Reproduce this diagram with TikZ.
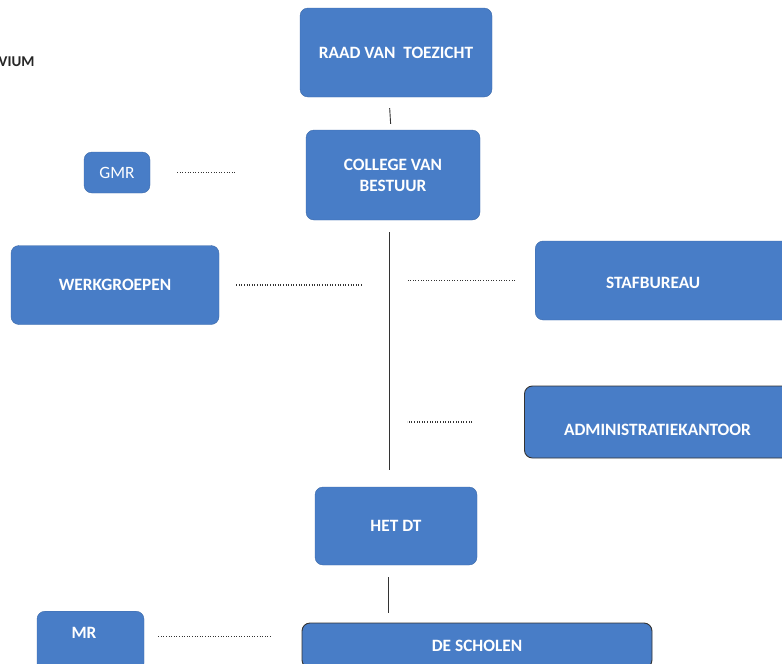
\documentclass[tikz,border=0pt]{standalone}
\usepackage{fontspec}
\setmainfont{Carlito}
\definecolor{boxblue}{RGB}{72,125,199}

\begin{document}
\begin{tikzpicture}[x=1pt,y=-1pt,line width=1pt]
\tikzset{
  box/.style={fill=boxblue,draw=boxblue!85!black,line width=0.4pt,rounded corners=8pt,
    inner sep=0pt,text=white,align=center,font=\bfseries\fontsize{17.3}{21}\selectfont},
  rim/.style={draw=black!80,line width=0.9pt},
  lbl/.style={text=white,font=\bfseries\fontsize{17.3}{21}\selectfont},
  tie/.style={line width=0.9pt,draw=black!80},
  dots/.style={line width=1.3pt,draw=black!80,dash pattern=on 0.9pt off 1.7pt}}
\useasboundingbox (0,0) rectangle (782,664);
\clip (0,0) rectangle (782,664);
% ---------- top ----------
\node[anchor=east,inner sep=0pt,text=black!85,font=\bfseries\fontsize{15}{17}\selectfont] (praes) at (35,62) {VIUM};
\node[box,minimum width=192,minimum height=89] (rvt) at (396,52.5) {RAAD VAN~~TOEZICHT};
\node[box,minimum width=174,minimum height=90] (cvb) at (393,175) {COLLEGE VAN\\BESTUUR};
\node[box,minimum width=66,minimum height=41,font=\fontsize{17.3}{21}\selectfont] (gmr) at (117,172.5) {GMR};
% ---------- side boxes ----------
\node[box,minimum width=208,minimum height=79] (werk) at (115,285) {WERKGROEPEN};
\node[box,anchor=west,minimum width=260,minimum height=79,
  label={[lbl,xshift=-12pt,yshift=-2.5pt]center:STAFBUREAU}] (staf) at (535,280.5) {};
\node[box,rim,anchor=west,minimum width=270,minimum height=72,
  label={[lbl,xshift=-2pt,yshift=-8pt]center:ADMINISTRATIEKANTOOR}] (admin) at (524,422) {};
% ---------- bottom ----------
\node[box,minimum width=162,minimum height=78] (dt) at (396,526) {HET DT};
\node[box,rim,minimum width=350,minimum height=45] (scholen) at (477,645.5) {DE SCHOLEN};
\node[box,anchor=north,minimum width=107,minimum height=60,
  label={[lbl,xshift=-6.5pt,yshift=8pt]center:MR}] (mr) at (90.5,611) {};
% ---------- lines ----------
\draw[tie,shorten <=11,shorten >=6] ([xshift=-7pt]rvt.south) -- ([xshift=-2pt]cvb.north);
\draw[tie,shorten <=12,shorten >=17] ([xshift=-4pt]cvb.south) -- ([xshift=-7pt]dt.north);
\draw[tie,shorten <=12,shorten >=10] ([xshift=-8pt]dt.south) -- ([xshift=-89pt]scholen.north);
\draw[dots,shorten <=27,shorten >=70] (gmr.east) -- (gmr.east -| cvb.west);
\draw[dots,shorten <=17,shorten >=31] (werk.east) -- (werk.east -| cvb.south);
\draw[dots,shorten <=20,shorten >=14] (staf.west) -- (staf.west -| cvb.south);
\draw[dots,shorten <=52,shorten >=14] (admin.west) -- (admin.west -| cvb.south);
\draw[dots,shorten <=14,shorten >=30] ([yshift=5pt]mr.east) coordinate (m1) -- (m1 -| scholen.west);
\end{tikzpicture}
\end{document}
